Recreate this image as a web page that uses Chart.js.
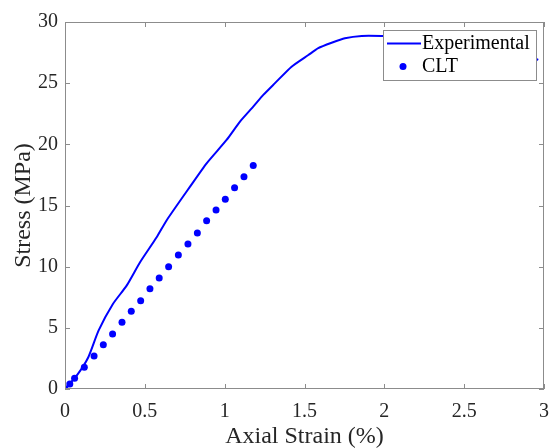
<!DOCTYPE html>
<html>
<head>
<meta charset="utf-8">
<script src="https://cdn.jsdelivr.net/npm/chart.js@4/dist/chart.umd.min.js"></script>
<style>
  html, body { margin: 0; padding: 0; background: #fff; }
  #wrap { width: 549px; height: 448px; }
</style>
</head>
<body>
<div id="wrap"><canvas id="stress-chart" width="549" height="448"></canvas></div>
<script>
// Experimental curve (strain %, stress MPa)
const expStrain = [0, 0.073, 0.146, 0.21, 0.30, 0.386, 0.47, 0.574, 0.637, 0.783, 0.887, 1.012, 1.096, 1.179, 1.242, 1.315, 1.419, 1.524, 1.586, 1.67, 1.753, 1.858, 1.983, 2.15, 2.35, 2.55, 2.75, 2.9, 2.964];
const expStress = [0, 1.09, 2.6, 4.77, 6.95, 8.45, 10.36, 12.4, 13.8, 16.54, 18.45, 20.36, 21.86, 23.08, 24.04, 25.0, 26.35, 27.3, 27.86, 28.3, 28.67, 28.86, 28.86, 28.8, 28.6, 28.3, 27.8, 27.2, 26.9];

// CLT prediction
const cltStrain = [0, 0.03, 0.06, 0.121, 0.182, 0.24, 0.298, 0.357, 0.415, 0.474, 0.532, 0.59, 0.649, 0.71, 0.77, 0.829, 0.887, 0.946, 1.004, 1.062, 1.121, 1.179];
const cltStress = [0, 0.41, 0.87, 1.77, 2.7, 3.62, 4.5, 5.45, 6.35, 7.22, 8.2, 9.08, 10.0, 10.96, 11.86, 12.76, 13.76, 14.64, 15.51, 16.46, 17.36, 18.26];

// tick labels
const xTicks = [0, 0.5, 1, 1.5, 2, 2.5, 3];
const yTicks = [0, 5, 10, 15, 20, 25, 30];

const seriesNames = ['Experimental', 'CLT'];

const blue = '#0000ff';
const axisGrey = '#8c8c8c';
const textColor = '#262626';
const serif = '"Liberation Serif", "Times New Roman", serif';

function toPoints(xs, ys) {
    return xs.map((x, i) => ({ x: x, y: ys[i] }));
}

// MATLAB style box with inward ticks on all four sides + legend on top of the data
const boxPlugin = {
    id: 'box',
    afterDatasetsDraw(chart) {
        const ctx = chart.ctx;
        const a = chart.chartArea;
        const xs = chart.scales.x;
        const ys = chart.scales.y;
        ctx.save();
        ctx.strokeStyle = axisGrey;
        ctx.lineWidth = 1;
        ctx.strokeRect(a.left + 0.5, a.top + 0.5, a.right - a.left - 1, a.bottom - a.top - 1);
        ctx.beginPath();
        xTicks.forEach(v => {
            const px = Math.round(xs.getPixelForValue(v)) + 0.5;
            ctx.moveTo(px, a.bottom); ctx.lineTo(px, a.bottom - 5);
            ctx.moveTo(px, a.top); ctx.lineTo(px, a.top + 5);
        });
        yTicks.forEach(v => {
            const py = Math.round(ys.getPixelForValue(v)) + 0.5;
            ctx.moveTo(a.left, py); ctx.lineTo(a.left + 5, py);
            ctx.moveTo(a.right, py); ctx.lineTo(a.right - 5, py);
        });
        ctx.stroke();

        // legend
        const lx = 383, ly = 30, lw = 153, lh = 50;
        ctx.fillStyle = '#fff';
        ctx.fillRect(lx, ly, lw, lh);
        ctx.strokeStyle = axisGrey;
        ctx.strokeRect(lx + 0.5, ly + 0.5, lw, lh);
        ctx.strokeStyle = blue;
        ctx.lineWidth = 2;
        ctx.beginPath();
        ctx.moveTo(387, 43.5); ctx.lineTo(421, 43.5);
        ctx.stroke();
        ctx.fillStyle = blue;
        ctx.beginPath();
        ctx.arc(403, 66.5, 3.5, 0, Math.PI * 2);
        ctx.fill();
        ctx.fillStyle = '#000';
        ctx.font = '20px ' + serif;
        ctx.textBaseline = 'middle';
        ctx.textAlign = 'left';
        ctx.fillText(seriesNames[0], 422, 44);
        ctx.fillText(seriesNames[1], 422, 67);
        ctx.restore();
    }
};

const ctx = document.getElementById('stress-chart').getContext('2d');
const chart = new Chart(ctx, {
    type: 'scatter',
    data: {
        datasets: [{
            label: seriesNames[0],
            data: toPoints(expStrain, expStress),
            showLine: true,
            borderColor: blue,
            borderWidth: 2,
            pointRadius: 0,
            tension: 0.2,
            fill: false
        }, {
            label: seriesNames[1],
            data: toPoints(cltStrain, cltStress),
            showLine: false,
            backgroundColor: blue,
            borderColor: blue,
            pointRadius: 3.5,
            pointBorderWidth: 0
        }]
    },
    options: {
        responsive: false,
        animation: false,
        layout: { padding: { top: 22, right: 5, left: 0, bottom: 0 } },
        plugins: {
            legend: { display: false },
            tooltip: { enabled: false }
        },
        scales: {
            x: {
                type: 'linear',
                min: 0,
                max: 3,
                afterBuildTicks: scale => { scale.ticks = xTicks.map(v => ({ value: v })); },
                afterFit: scale => {
                    scale.height = 59;
                    scale.paddingLeft = 0;
                    scale.paddingRight = 0;
                },
                grid: { display: false, drawTicks: false },
                border: { display: false },
                ticks: {
                    padding: 11,
                    color: textColor,
                    font: { family: serif, size: 20 },
                    maxRotation: 0,
                    callback: v => String(v)
                },
                title: {
                    display: true,
                    text: 'Axial Strain (%)',
                    color: textColor,
                    font: { family: serif, size: 24, lineHeight: 1 },
                    padding: { top: 0, bottom: -1 }
                }
            },
            y: {
                type: 'linear',
                min: 0,
                max: 30,
                afterBuildTicks: scale => { scale.ticks = yTicks.map(v => ({ value: v })); },
                afterFit: scale => {
                    scale.width = 65;
                    scale.paddingTop = 0;
                    scale.paddingBottom = 0;
                },
                grid: { display: false, drawTicks: false },
                border: { display: false },
                ticks: {
                    padding: 7,
                    color: textColor,
                    font: { family: serif, size: 20 },
                    callback: v => String(v)
                },
                title: {
                    display: true,
                    text: 'Stress (MPa)',
                    color: textColor,
                    font: { family: serif, size: 24, lineHeight: 1 },
                    padding: { top: 12, bottom: 0 }
                }
            }
        }
    },
    plugins: [boxPlugin]
});
</script>
</body>
</html>
